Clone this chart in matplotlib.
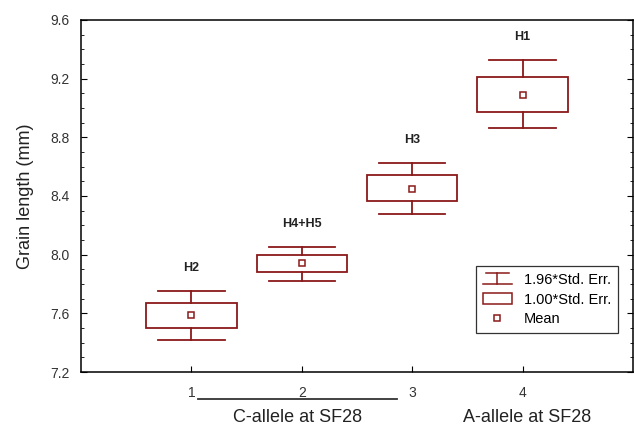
import matplotlib
matplotlib.use("Agg")
import matplotlib.pyplot as plt
import matplotlib.transforms as mtransforms
from matplotlib.lines import Line2D
from matplotlib.patches import Rectangle
from matplotlib.legend_handler import HandlerBase
from matplotlib.ticker import MultipleLocator

plt.rcParams['font.family'] = ['Liberation Sans', 'DejaVu Sans']

# haplotype groups
groups = [1, 2, 3, 4]
names = ["H2", "H4+H5", "H3", "H1"]
means = [7.59, 7.94, 8.45, 9.09]
se_lo = [7.50, 7.88, 8.365, 8.97]
se_hi = [7.67, 8.00, 8.54, 9.21]
ci_lo = [7.42, 7.82, 8.28, 8.865]
ci_hi = [7.755, 8.055, 8.627, 9.33]

col = "#8b1a1a"

fig = plt.figure(figsize=(6.34, 4.25), dpi=100)
ax = fig.add_axes([0.1278, 0.1247, 0.8706, 0.8283])

box_w = 0.41
cap_w = 0.30
for x, m, lo, hi, clo, chi, nm in zip(groups, means, se_lo, se_hi, ci_lo, ci_hi, names):
    ax.add_patch(Rectangle((x - box_w, lo), 2 * box_w, hi - lo, fill=False,
                           edgecolor=col, lw=1.3))
    ax.plot([x, x], [hi, chi], color=col, lw=1.3)
    ax.plot([x, x], [clo, lo], color=col, lw=1.3)
    ax.plot([x - cap_w, x + cap_w], [chi, chi], color=col, lw=1.3)
    ax.plot([x - cap_w, x + cap_w], [clo, clo], color=col, lw=1.3)
    ax.plot([x], [m], marker="s", ms=5, mfc="white", mec=col, mew=1.1)
    ax.annotate(nm, (x, chi), xytext=(0, 12), textcoords="offset points",
                ha="center", va="bottom", fontsize=9, fontweight="bold",
                color="#222222")

ax.set_xlim(0, 5)
ax.set_ylim(7.2, 9.6)
ax.set_xticks(groups)
ax.yaxis.set_major_locator(MultipleLocator(0.4))
ax.yaxis.set_minor_locator(MultipleLocator(0.1))
ax.yaxis.set_major_formatter(matplotlib.ticker.FormatStrFormatter("%.1f"))
ax.tick_params(axis="both", which="both", direction="in", labelsize=10,
               labelcolor="#333333")
ax.tick_params(axis="y", which="both", right=True)
ax.tick_params(axis="y", which="major", length=4, pad=8)
ax.tick_params(axis="y", which="minor", length=2)
ax.tick_params(axis="x", length=4, pad=10)
ax.set_ylabel("Grain length (mm)", fontsize=13, color="#222222", labelpad=12)
for s in ax.spines.values():
    s.set_linewidth(1.1)

# allele grouping under the axis
trans = mtransforms.blended_transform_factory(ax.transData, ax.transAxes)
ax.plot([1.06, 2.86], [-0.077, -0.077], color="#333333", lw=1.3,
        transform=trans, clip_on=False)
ax.text(1.96, -0.128, "C-allele at SF28", transform=trans, ha="center",
        va="center", fontsize=13, color="#222222")
ax.text(4.04, -0.128, "A-allele at SF28", transform=trans, ha="center",
        va="center", fontsize=13, color="#222222")


class WhiskerHandler(HandlerBase):
    def create_artists(self, legend, orig, xd, yd, w, h, fontsize, trans):
        cx = xd + w / 2
        lines = [
            Line2D([xd + 2, xd + w - 2], [yd + h, yd + h]),
            Line2D([xd, xd + w], [yd, yd]),
            Line2D([cx, cx], [yd, yd + h]),
        ]
        for ln in lines:
            ln.set_color(col)
            ln.set_linewidth(1.1)
            ln.set_transform(trans)
        return lines


class BoxHandler(HandlerBase):
    def create_artists(self, legend, orig, xd, yd, w, h, fontsize, trans):
        r = Rectangle((xd, yd), w, h, fill=False, edgecolor=col, lw=1.1,
                      transform=trans)
        return [r]


h_ci = Line2D([], [])
h_se = Rectangle((0, 0), 1, 1)
h_mean = Line2D([], [], ls="none", marker="s", ms=5, mfc="white", mec=col,
                mew=1.1)
leg = ax.legend([h_ci, h_se, h_mean],
                ["1.96*Std. Err.", "1.00*Std. Err.", "Mean"],
                handler_map={h_ci: WhiskerHandler(), h_se: BoxHandler()},
                loc="lower right", bbox_to_anchor=(0.972, 0.111),
                fontsize=10.5, fancybox=False, framealpha=1,
                edgecolor="#333333", handlelength=2.0, handletextpad=0.8,
                labelspacing=0.4, borderpad=0.45, borderaxespad=0)
leg.get_frame().set_linewidth(0.9)

fig.savefig("out.png", dpi=100)
